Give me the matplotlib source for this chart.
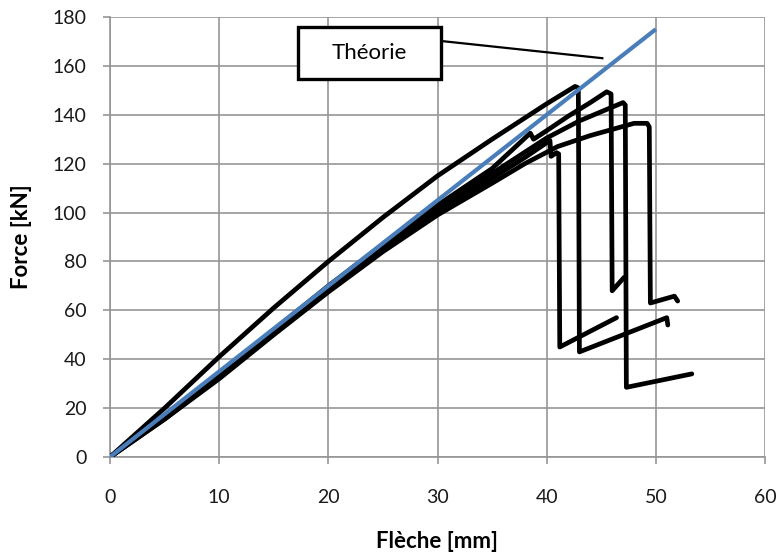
import matplotlib
matplotlib.use("Agg")
import matplotlib.pyplot as plt
from matplotlib.patches import Rectangle

plt.rcParams['font.family'] = ['Lato', 'DejaVu Sans']

# Essais de flexion : flèche [mm] / force [kN]
essai1_fleche = [0, 5, 10, 15, 20, 25, 30, 35, 40, 42.6, 42.9, 43.0, 47.0, 51.0, 51.1]
essai1_force = [0, 20, 41, 61, 80, 98, 115, 130, 144.5, 151.6, 151, 43, 50, 57, 54]

essai2_fleche = [0, 5, 10, 15, 20, 25, 30, 35, 38.5, 38.8, 40, 42, 44, 45.5, 45.9, 46.0, 47.1]
essai2_force = [0, 16.5, 34, 52, 70, 87, 103, 118, 132.5, 130, 133.5, 139.5, 145, 149.4, 148.5, 68, 73.5]

essai3_fleche = [0, 5, 10, 15, 20, 25, 30, 35, 40, 43, 47.0, 47.2, 47.3, 53.3]
essai3_force = [0, 16, 33, 51, 69, 85.5, 101, 116, 130.5, 137.5, 145, 144, 28.5, 34]

essai4_fleche = [0, 5, 10, 15, 20, 25, 30, 35, 38, 41, 44, 48.0, 49.2, 49.4, 49.5, 51.7, 52.0]
essai4_force = [0, 15.5, 32, 50, 67.5, 84, 99, 112, 120, 127, 131.5, 136.5, 136.5, 135, 63, 65.8, 63.8]

essai5_fleche = [0, 5, 10, 15, 20, 25, 30, 35, 38, 40.3, 40.4, 40.9, 41.1, 41.2, 46.4]
essai5_force = [0, 15.5, 32.5, 51, 68.5, 85, 100, 114, 122.5, 129.5, 123, 124.5, 124, 45, 57]

# Droite théorique
theorie_fleche = [0, 50]
theorie_force = [0, 175]

x_ticks = [0, 10, 20, 30, 40, 50, 60]
y_ticks = [0, 20, 40, 60, 80, 100, 120, 140, 160, 180]

grid_col = '#969696'

fig = plt.figure(figsize=(7.79, 5.56), dpi=100)
ax = fig.add_axes([110 / 779, 1 - 457 / 556, 655 / 779, 440 / 556])

essais = [
    (essai1_fleche, essai1_force),
    (essai2_fleche, essai2_force),
    (essai3_fleche, essai3_force),
    (essai4_fleche, essai4_force),
    (essai5_fleche, essai5_force),
]
for fx, fy in essais:
    ax.plot(fx, fy, color='black', lw=3.4, solid_joinstyle='round',
            solid_capstyle='round', zorder=3)

ax.plot(theorie_fleche, theorie_force, color='#4a7ebb', lw=3.0,
        solid_capstyle='butt', zorder=4)

ax.set_xlim(x_ticks[0], x_ticks[-1])
ax.set_ylim(y_ticks[0], y_ticks[-1])
ax.set_xticks(x_ticks)
ax.set_yticks(y_ticks)
ax.grid(True, color=grid_col, lw=1.2)
ax.set_axisbelow(True)
for s in ['top', 'right']:
    ax.spines[s].set_visible(False)
for s in ['left', 'bottom']:
    ax.spines[s].set_color(grid_col)
    ax.spines[s].set_linewidth(1.2)
ax.tick_params(axis='both', direction='out', length=5, width=1.2,
               color=grid_col, labelsize=14, labelcolor='#1a1a1a')
ax.tick_params(axis='x', pad=18)
ax.tick_params(axis='y', pad=12)

ax.set_xlabel('Flèche [mm]', fontsize=16, fontweight='bold')
ax.xaxis.label.set_va('center')
ax.xaxis.set_label_coords(0.5, (457 - 541) / 440)
ax.set_ylabel('Force [kN]', fontsize=16, fontweight='bold')
ax.yaxis.label.set_va('center')
ax.yaxis.set_label_coords((22 - 110) / 655, 0.5)

# Étiquette de la courbe théorique
ax.plot([30.3, 45.2], [170.2, 163.1], color='black', lw=1.6, zorder=5,
        solid_capstyle='butt')
ax.add_patch(Rectangle((17.2, 154.7), 13.1, 21.2, facecolor='white',
                       edgecolor='black', lw=2.4, zorder=6))
ax.text(23.75, 165.3, 'Théorie', fontsize=16, ha='center', va='center',
        zorder=7)

fig.savefig('out.png', dpi=100)
